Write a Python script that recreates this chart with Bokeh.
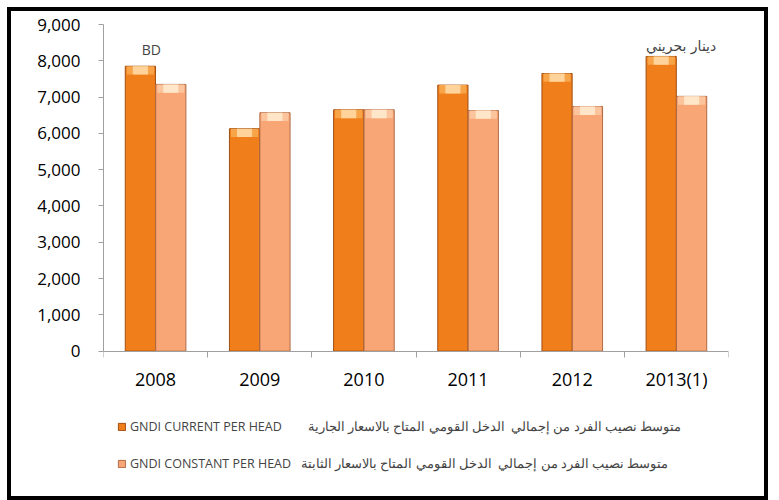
from bokeh.plotting import figure
from bokeh.models import (Range1d, FixedTicker, NumeralTickFormatter, Legend, LegendItem,
                          Label, ColumnDataSource)
from bokeh.embed import file_html
from bokeh.resources import INLINE

years = ["2008", "2009", "2010", "2011", "2012", "2013(1)"]
gndi_current = [7850, 6130, 6650, 7330, 7650, 8120]
gndi_constant = [7350, 6570, 6650, 6630, 6740, 7020]
label_current = "GNDI CURRENT PER HEAD        متوسط نصيب الفرد من إجمالي  الدخل القومي المتاح بالاسعار الجارية"
label_constant = "GNDI CONSTANT PER HEAD   متوسط نصيب الفرد من إجمالي  الدخل القومي المتاح بالاسعار الثابتة"
unit_en = "BD"
unit_ar = "دينار بحريني"

FONT = "Open Sans"
n = len(years)
centers = [i + 0.5 for i in range(n)]
dodge = 0.146
bw = 0.29

src = ColumnDataSource(dict(
    xc=[c - dodge for c in centers],
    xk=[c + dodge for c in centers],
    cur=gndi_current,
    con=gndi_constant,
    cur_b=[v - 230 for v in gndi_current],
    con_b=[v - 230 for v in gndi_constant],
))

# the frame reaches down to the bottom so the legend can sit beneath the axis
p = figure(width=761, height=493, x_range=Range1d(0, n), y_range=Range1d(-4224, 9000),
           output_backend="svg", toolbar_location=None,
           min_border_left=92, min_border_right=44, min_border_top=13, min_border_bottom=0)
p.styles = {"border": "4px solid black", "margin": "7px 0 0 7px"}
p.outline_line_color = None
p.xgrid.visible = False
p.ygrid.visible = False

r1 = p.vbar(x="xc", top="cur", width=bw, source=src, fill_color="#F07E1A",
            line_color="#A04E12", line_width=1)
p.vbar(x="xc", top="cur", bottom="cur_b", width=bw * 0.9, source=src, fill_color="#F8A54A",
       line_color=None)
p.vbar(x="xc", top="cur", bottom="cur_b", width=bw * 0.5, source=src, fill_color="#FFD39A",
       line_color=None)
r2 = p.vbar(x="xk", top="con", width=bw, source=src, fill_color="#F8A676",
            line_color="#B06A45", line_width=1)
p.vbar(x="xk", top="con", bottom="con_b", width=bw * 0.9, source=src, fill_color="#FCC49C",
       line_color=None)
p.vbar(x="xk", top="con", bottom="con_b", width=bw * 0.5, source=src, fill_color="#FFE6C8",
       line_color=None)

# y axis
ya = p.yaxis[0]
ya.ticker = FixedTicker(ticks=list(range(0, 9001, 1000)))
ya.formatter = NumeralTickFormatter(format="0,0")
ya.bounds = (0, 9000)
ya.axis_line_color = "#A0A0A0"
ya.major_tick_line_color = "#A0A0A0"
ya.major_tick_out = 5
ya.major_tick_in = 0
ya.minor_tick_line_color = None
ya.major_label_standoff = 18
ya.major_label_text_font = FONT
ya.major_label_text_font_size = "17px"
ya.major_label_text_color = "#000000"

# x axis at value 0: ticks at category boundaries, labels at centers
xa = p.xaxis[0]
xa.fixed_location = 0
xa.ticker = FixedTicker(ticks=centers, minor_ticks=list(range(0, n + 1)))
xa.major_label_overrides = {c: y for c, y in zip(centers, years)}
xa.axis_line_color = "#A0A0A0"
xa.major_tick_line_color = None
xa.major_tick_out = 0
xa.major_tick_in = 0
xa.minor_tick_line_color = "#A0A0A0"
xa.minor_tick_out = 6
xa.minor_tick_in = 0
xa.major_label_standoff = 10
xa.major_label_text_font = FONT
xa.major_label_text_font_size = "18px"
xa.major_label_text_color = "#000000"

p.add_layout(Label(x=centers[0] - 0.04, y=8320, text=unit_en, text_font=FONT,
                   text_font_size="14px", text_align="center", text_baseline="middle"))
p.add_layout(Label(x=centers[5] + 0.045, y=8400, text=unit_ar, text_font="DejaVu Sans",
                   text_font_size="14px", text_align="center", text_baseline="middle"))

legend = Legend(items=[LegendItem(label=label_current, renderers=[r1]),
                       LegendItem(label=label_constant, renderers=[r2])],
                location=(14, 32), orientation="vertical",
                label_text_font=FONT, label_text_font_size="12.5px",
                glyph_width=9, glyph_height=9, label_standoff=4, label_height=14,
                spacing=20, padding=0, margin=0, border_line_color=None,
                background_fill_alpha=0)
p.add_layout(legend)

open("out.html", "w").write(file_html(p, INLINE))
